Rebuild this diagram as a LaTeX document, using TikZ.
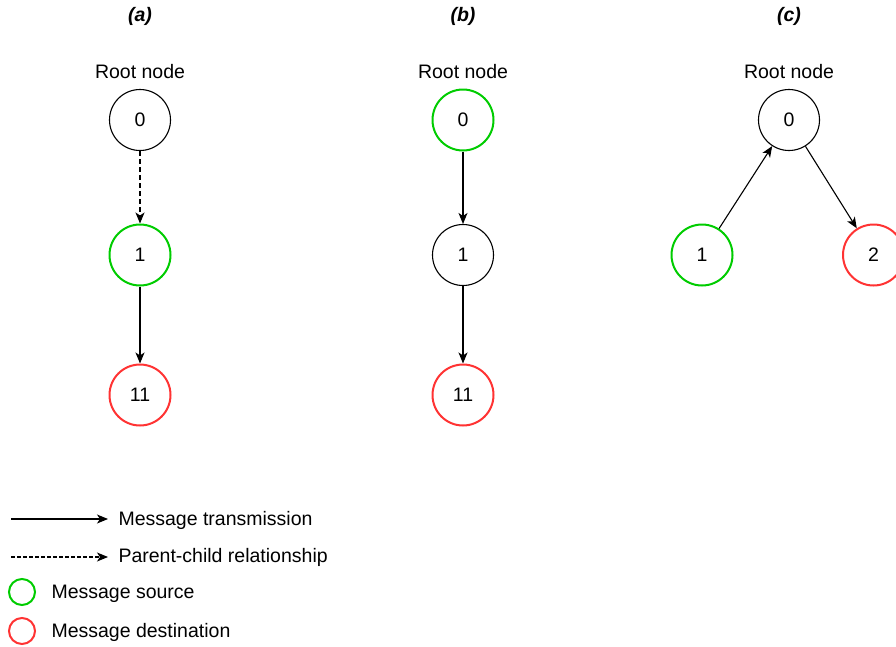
\documentclass[tikz,border=0pt]{standalone}
\usepackage{fontspec}
\setmainfont{Liberation Sans}
\usetikzlibrary{arrows.meta}
\definecolor{srcgreen}{HTML}{00CC00}
\definecolor{dstred}{HTML}{FF3333}
\begin{document}
\begin{tikzpicture}[x=1pt,y=-1pt,
  every node/.style={font=\fontsize{19.5}{23}\selectfont},
  vert/.style={circle,draw=black,line width=1.1pt,minimum size=61pt,inner sep=0pt},
  src/.style={vert,draw=srcgreen,line width=2pt},
  dst/.style={vert,draw=dstred,line width=2pt},
  keysrc/.style={circle,draw=srcgreen,line width=2pt,minimum size=26pt,inner sep=0pt},
  keydst/.style={circle,draw=dstred,line width=2pt,minimum size=26pt,inner sep=0pt},
  msg/.style={line width=1.1pt,-{Stealth[length=11pt,width=9pt,inset=3pt]}},
  rel/.style={msg,dash pattern=on 4.5pt off 3.5pt},
  title/.style={font=\fontsize{19.5}{23}\selectfont\bfseries\itshape},
  caption/.style={anchor=west}]
\useasboundingbox (0,0) rectangle (896,646);

% (a) path through the parent
\node[title] (ta) at (140,16) {(a)};
\node (ra) at (140,72) {Root node};
\node[vert] (a0) at (140,120) {0};
\node[src]  (a1) at (140,255) {1};
\node[dst]  (a11) at (140,395) {11};
\draw[rel] (a0) -- (a1);
\draw[msg] (a1) -- (a11);

% (b) message from the root
\node[title] (tb) at (463,16) {(b)};
\node (rb) at (463,72) {Root node};
\node[src]  (b0) at (463,120) {0};
\node[vert] (b1) at (463,255) {1};
\node[dst]  (b11) at (463,395) {11};
\draw[msg] (b0) -- (b1);
\draw[msg] (b1) -- (b11);

% (c) message between siblings
\node[title] (tc) at (789,16) {(c)};
\node (rc) at (789,72) {Root node};
\node[vert] (c0) at (789,120) {0};
\node[src]  (c1) at (702,255) {1};
\node[dst]  (c2) at (873.5,255) {2};
\draw[msg] (c1) -- (c0);
\draw[msg] (c0) -- (c2);

% legend
\coordinate (k1s) at (11,519);
\coordinate (k1e) at (108,519);
\draw[msg] (k1s) -- (k1e);
\node[caption] (k1t) at (115,520) {Message transmission};
\coordinate (k2s) at (11,557);
\coordinate (k2e) at (108,557);
\draw[msg,dash pattern=on 3.5pt off 2.5pt] (k2s) -- (k2e);
\node[caption] (k2t) at (115,557) {Parent-child relationship};
\node[keysrc] (k3) at (22,592) {};
\node[caption] (k3t) at (48,594) {Message source};
\node[keydst] (k4) at (22,631) {};
\node[caption] (k4t) at (48,632) {Message destination};
\end{tikzpicture}
\end{document}
